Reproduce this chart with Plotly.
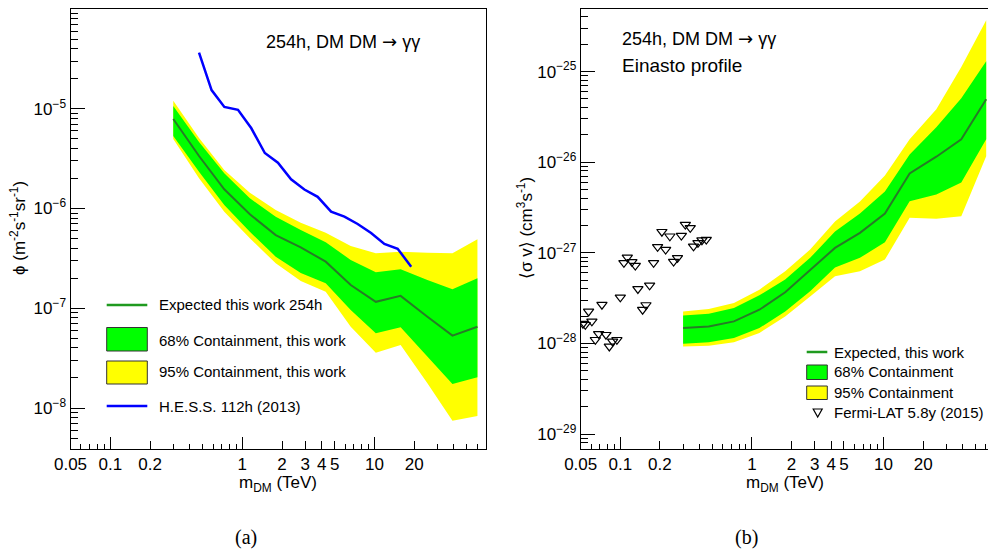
import numpy as np
import plotly.graph_objects as go

W, H = 988, 553

# ---------------- data: panel (a) ----------------
mass_band = [0.30, 0.47, 0.73, 1.14, 1.79, 2.77, 4.28, 6.62, 10.25, 15.8, 25.2, 39.0, 60.3]
phi_expected = [7.89e-6, 3.36e-6, 1.56e-6, 8.75e-7, 5.42e-7, 4.08e-7, 2.93e-7, 1.71e-7, 1.16e-7, 1.33e-7, 8.22e-8, 5.31e-8, 6.53e-8]
phi_68_hi = [1.067e-5, 4.64e-6, 2.25e-6, 1.265e-6, 8.28e-7, 6.09e-7, 4.58e-7, 3.05e-7, 2.29e-7, 2.46e-7, 1.92e-7, 1.55e-7, 2.0e-7]
phi_68_lo = [5.33e-6, 2.34e-6, 1.084e-6, 5.85e-7, 3.29e-7, 2.26e-7, 1.78e-7, 9.6e-8, 5.61e-8, 6.44e-8, 3.27e-8, 1.74e-8, 2.03e-8]
phi_95_hi = [1.205e-5, 5.09e-6, 2.43e-6, 1.44e-6, 9.66e-7, 7.21e-7, 5.72e-7, 4.21e-7, 3.56e-7, 3.69e-7, 3.60e-7, 3.56e-7, 4.91e-7]
phi_95_lo = [4.98e-6, 2.01e-6, 9.29e-7, 5.03e-7, 2.82e-7, 1.88e-7, 1.466e-7, 6.53e-8, 3.58e-8, 4.28e-8, 1.77e-8, 7.46e-9, 8.32e-9]

hess_mass = [0.47, 0.585, 0.731, 0.927, 1.17, 1.48, 1.86, 2.34, 2.95, 3.72, 4.70, 5.93, 7.47, 9.44, 11.9, 15.0, 19.0]
hess_phi = [3.65e-5, 1.54e-5, 1.042e-5, 9.77e-6, 6.37e-6, 3.60e-6, 2.88e-6, 1.96e-6, 1.55e-6, 1.31e-6,
            9.29e-7, 8.28e-7, 6.99e-7, 5.68e-7, 4.41e-7, 3.95e-7, 2.61e-7]

# ---------------- data: panel (b) ----------------
sv_expected = [1.48e-28, 1.545e-28, 1.755e-28, 2.36e-28, 3.67e-28, 6.54e-28, 1.135e-27, 1.66e-27, 2.72e-27, 7.52e-27, 1.15e-26, 1.79e-26, 4.94e-26]
sv_68_hi = [2.04e-28, 2.13e-28, 2.47e-28, 3.40e-28, 5.07e-28, 8.81e-28, 1.72e-27, 2.72e-27, 4.76e-27, 1.22e-26, 2.43e-26, 5.07e-26, 1.30e-25]
sv_68_lo = [9.95e-29, 1.03e-28, 1.15e-28, 1.48e-28, 2.26e-28, 3.77e-28, 6.88e-28, 8.81e-28, 1.31e-27, 3.72e-27, 4.41e-27, 5.98e-27, 1.79e-26]
sv_95_hi = [2.26e-28, 2.41e-28, 2.80e-28, 3.93e-28, 6.26e-28, 1.087e-27, 2.22e-27, 3.69e-27, 7.14e-27, 1.79e-26, 3.83e-26, 1.12e-25, 3.69e-25]
sv_95_lo = [9.29e-29, 9.46e-29, 1.03e-28, 1.31e-28, 1.99e-28, 3.31e-28, 5.51e-28, 6.26e-28, 8.43e-28, 2.44e-27, 2.38e-27, 2.54e-27, 1.16e-26]

fermi_mass = [0.0520, 0.0542, 0.0574, 0.0608, 0.0646, 0.0684, 0.0725, 0.0778, 0.0825, 0.0874, 0.0942, 0.100,
              0.1065, 0.113, 0.1225, 0.130, 0.136, 0.1477, 0.1566, 0.167, 0.179, 0.192, 0.207, 0.221, 0.238,
              0.254, 0.272, 0.291, 0.312, 0.340, 0.360, 0.389, 0.417, 0.450]
fermi_sv = [1.655e-28, 1.61e-28, 2.26e-28, 1.755e-28, 1.10e-28, 1.28e-28, 2.68e-28, 1.25e-28, 9.29e-29, 1.055e-28,
            1.10e-28, 3.23e-28, 7.76e-28, 8.94e-28, 7.96e-28, 7.24e-28, 4.0e-28, 2.36e-28, 2.66e-28, 4.39e-28,
            7.76e-28, 1.165e-27, 1.71e-27, 1.087e-27, 1.525e-27, 8.02e-28, 8.81e-28, 1.55e-27, 2.05e-27, 1.89e-27,
            1.18e-27, 1.29e-27, 1.38e-27, 1.40e-27]

x_tick_vals = [0.05, 0.1, 0.2, 1, 2, 3, 4, 5, 10, 20]
x_tick_text = ["0.05", "0.1", "0.2", "1", "2", "3", "4", "5", "10", "20"]
x_decades = [0.1, 1, 10]
phi_decades = [-8, -7, -6, -5, -4]
sv_decades = [-29, -28, -27, -26, -25]

GREEN = "#00ff00"
YELLOW = "#ffff00"
LINE_GREEN = "#267d26"
BLUE = "#0000ff"
FONT = "Liberation Sans"
ARROW = '<span style="font-family:DejaVu Sans">\u2192</span>'


def px(x):
    return x / W


def py(y):
    return 1 - y / H


def band(xs, hi, lo):
    return list(xs) + list(xs)[::-1], list(hi) + list(lo)[::-1]


fig = go.Figure()

# panel (a)
bx, by = band(mass_band, phi_95_hi, phi_95_lo)
fig.add_trace(go.Scatter(x=bx, y=by, fill="toself", fillcolor=YELLOW, line=dict(width=0),
                         mode="lines", showlegend=False, xaxis="x", yaxis="y"))
bx, by = band(mass_band, phi_68_hi, phi_68_lo)
fig.add_trace(go.Scatter(x=bx, y=by, fill="toself", fillcolor=GREEN, line=dict(width=0),
                         mode="lines", showlegend=False, xaxis="x", yaxis="y"))
fig.add_trace(go.Scatter(x=mass_band, y=phi_expected, mode="lines", line=dict(color=LINE_GREEN, width=2),
                         showlegend=False, xaxis="x", yaxis="y"))
fig.add_trace(go.Scatter(x=hess_mass, y=hess_phi, mode="lines", line=dict(color=BLUE, width=2.5),
                         showlegend=False, xaxis="x", yaxis="y"))

# panel (b)
bx, by = band(mass_band, sv_95_hi, sv_95_lo)
fig.add_trace(go.Scatter(x=bx, y=by, fill="toself", fillcolor=YELLOW, line=dict(width=0),
                         mode="lines", showlegend=False, xaxis="x2", yaxis="y2"))
bx, by = band(mass_band, sv_68_hi, sv_68_lo)
fig.add_trace(go.Scatter(x=bx, y=by, fill="toself", fillcolor=GREEN, line=dict(width=0),
                         mode="lines", showlegend=False, xaxis="x2", yaxis="y2"))
fig.add_trace(go.Scatter(x=mass_band, y=sv_expected, mode="lines", line=dict(color=LINE_GREEN, width=2),
                         showlegend=False, xaxis="x2", yaxis="y2"))
fig.add_trace(go.Scatter(x=fermi_mass, y=fermi_sv, mode="markers",
                         marker=dict(symbol="triangle-down-open", size=9, color="black", line=dict(width=1.2)),
                         showlegend=False, xaxis="x2", yaxis="y2"))

# empty traces to attach the long-decade tick overlay axes
fig.add_trace(go.Scatter(x=[], y=[], xaxis="x3", yaxis="y", showlegend=False))
fig.add_trace(go.Scatter(x=[], y=[], xaxis="x4", yaxis="y2", showlegend=False))


def minor_x():
    vals = []
    for d in [0.01, 0.1, 1, 10]:
        for k in range(2, 10):
            v = round(k * d, 6)
            if v not in x_tick_vals:
                vals.append(v)
    return vals


def minor_y(decs):
    vals = []
    for e in range(min(decs) - 1, max(decs) + 1):
        for k in range(2, 10):
            vals.append(k * 10.0 ** e)
    return vals


tickfont = dict(family=FONT, size=17, color="black")

common_x = dict(type="log", showline=True, linecolor="black", linewidth=1, mirror=True, automargin=False,
                ticks="inside", tickmode="array", tickvals=x_tick_vals, ticktext=x_tick_text,
                ticklen=8, tickwidth=1, tickcolor="black", showgrid=False, zeroline=False,
                tickfont=tickfont,
                minor=dict(tickmode="array", tickvals=minor_x(), ticks="inside", ticklen=5,
                           tickwidth=1, tickcolor="black", showgrid=False))

xa_dom = [70.5 / W, 486 / W]
xb_dom = [580.7 / W, 1.0]
y_dom = [1 - 448.5 / H, 1 - 9 / H]

fig.update_layout(
    width=W, height=H,
    margin=dict(l=0, r=0, t=0, b=0, autoexpand=False),
    paper_bgcolor="white", plot_bgcolor="white",
    showlegend=False,
    xaxis=dict(common_x, domain=xa_dom, range=[np.log10(0.05), np.log10(70)], anchor="y"),
    xaxis2=dict(common_x, domain=xb_dom, range=[np.log10(0.05), 1.794], anchor="y2"),
    xaxis3=dict(type="log", overlaying="x", anchor="y", range=[np.log10(0.05), np.log10(70)], automargin=False,
                ticks="inside", tickmode="array", tickvals=x_decades, ticklen=12, tickcolor="black",
                showticklabels=False, showline=False, showgrid=False, zeroline=False),
    xaxis4=dict(type="log", overlaying="x2", anchor="y2", range=[np.log10(0.05), 1.794], automargin=False,
                ticks="inside", tickmode="array", tickvals=x_decades, ticklen=12, tickcolor="black",
                showticklabels=False, showline=False, showgrid=False, zeroline=False),
    yaxis=dict(type="log", domain=y_dom, range=[-8.406, -4], anchor="x", automargin=False,
               showline=True, linecolor="black", linewidth=1, mirror=True,
               ticks="inside", tickmode="array",
               tickvals=[10.0 ** e for e in phi_decades],
               ticktext=["10<sup>\u2212%d</sup>" % (-e) for e in phi_decades],
               ticklen=14, tickcolor="black", showgrid=False, zeroline=False, tickfont=tickfont,
               minor=dict(tickmode="array", tickvals=minor_y(phi_decades), ticks="inside", ticklen=7,
                          tickcolor="black", showgrid=False)),
    yaxis2=dict(type="log", domain=y_dom, range=[-29.158, -24.31], anchor="x2", automargin=False,
                showline=True, linecolor="black", linewidth=1, mirror=True,
                ticks="inside", tickmode="array",
                tickvals=[10.0 ** e for e in sv_decades],
                ticktext=["10<sup>\u2212%d</sup>" % (-e) for e in sv_decades],
                ticklen=14, tickcolor="black", showgrid=False, zeroline=False, tickfont=tickfont,
                minor=dict(tickmode="array", tickvals=minor_y(sv_decades), ticks="inside", ticklen=7,
                           tickcolor="black", showgrid=False)),
)

annotations = []
shapes = []


def text(x, y, s, size=15, xanchor="left", angle=0, family=FONT):
    annotations.append(dict(x=px(x), y=py(y), xref="paper", yref="paper", text=s, showarrow=False,
                            xanchor=xanchor, yanchor="middle", textangle=angle,
                            font=dict(family=family, size=size, color="black")))


# axis titles
text(278, 484, "m<sub>DM</sub> (TeV)", size=17, xanchor="center")
text(784.5, 484, "m<sub>DM</sub> (TeV)", size=17, xanchor="center")
text(18, 228, "\u03d5 (m<sup>-2</sup>s<sup>-1</sup>sr<sup>-1</sup>)", size=17, xanchor="center", angle=-90)
text(525, 228, "\u27e8\u03c3 v\u27e9 (cm<sup>3</sup>s<sup>-1</sup>)", size=17, xanchor="center", angle=-90)

# in-plot labels
text(264, 42, "254h, DM DM " + ARROW + " \u03b3\u03b3", size=18)
text(620, 38, "254h, DM DM " + ARROW + " \u03b3\u03b3", size=18)
text(620, 65, "Einasto profile", size=19)

# sub-figure labels
text(246, 537, "(a)", size=20, xanchor="center", family="Liberation Serif")
text(746, 537, "(b)", size=20, xanchor="center", family="Liberation Serif")

# legend (a)
lx0, lx1 = 106.7, 147.3
shapes.append(dict(type="line", xref="paper", yref="paper", x0=px(lx0), x1=px(lx1), y0=py(305), y1=py(305),
                   line=dict(color="#1f9a1f", width=2.5)))
shapes.append(dict(type="rect", xref="paper", yref="paper", x0=px(lx0), x1=px(lx1), y0=py(351), y1=py(327.5),
                   fillcolor=GREEN, line=dict(color="#333333", width=1)))
shapes.append(dict(type="rect", xref="paper", yref="paper", x0=px(lx0), x1=px(lx1), y0=py(384), y1=py(361),
                   fillcolor=YELLOW, line=dict(color="#333333", width=1)))
shapes.append(dict(type="line", xref="paper", yref="paper", x0=px(lx0), x1=px(lx1), y0=py(406), y1=py(406),
                   line=dict(color=BLUE, width=2.5)))
text(156.5, 304, "Expected this work 254h", size=15)
text(156.5, 340, "68% Containment, this work", size=15)
text(156.5, 371.5, "95% Containment, this work", size=15)
text(156.5, 406, "H.E.S.S. 112h (2013)", size=15)

# legend (b)
rx0, rx1 = 806.7, 827.3
shapes.append(dict(type="line", xref="paper", yref="paper", x0=px(rx0), x1=px(rx1), y0=py(352), y1=py(352),
                   line=dict(color="#1f9a1f", width=2.5)))
shapes.append(dict(type="rect", xref="paper", yref="paper", x0=px(rx0), x1=px(rx1), y0=py(379.5), y1=py(365),
                   fillcolor=GREEN, line=dict(color="#333333", width=1)))
shapes.append(dict(type="rect", xref="paper", yref="paper", x0=px(rx0), x1=px(rx1), y0=py(399.5), y1=py(386),
                   fillcolor=YELLOW, line=dict(color="#333333", width=1)))
cx, cy = 817.7, 412.5
tri = "M %f %f L %f %f L %f %f Z" % (px(cx - 4.5), py(cy - 3.5), px(cx + 4.5), py(cy - 3.5), px(cx), py(cy + 4.5))
shapes.append(dict(type="path", xref="paper", yref="paper", path=tri, line=dict(color="black", width=1.2)))
text(831.5, 352, "Expected, this work", size=15)
text(831.5, 371.5, "68% Containment", size=15)
text(831.5, 392, "95% Containment", size=15)
text(831.5, 412, "Fermi-LAT 5.8y (2015)", size=15)

fig.update_layout(annotations=annotations, shapes=shapes)

fig.write_html("out.html", config={"displayModeBar": False},
               post_script="document.body.style.margin='0';document.body.style.overflow='hidden';")
